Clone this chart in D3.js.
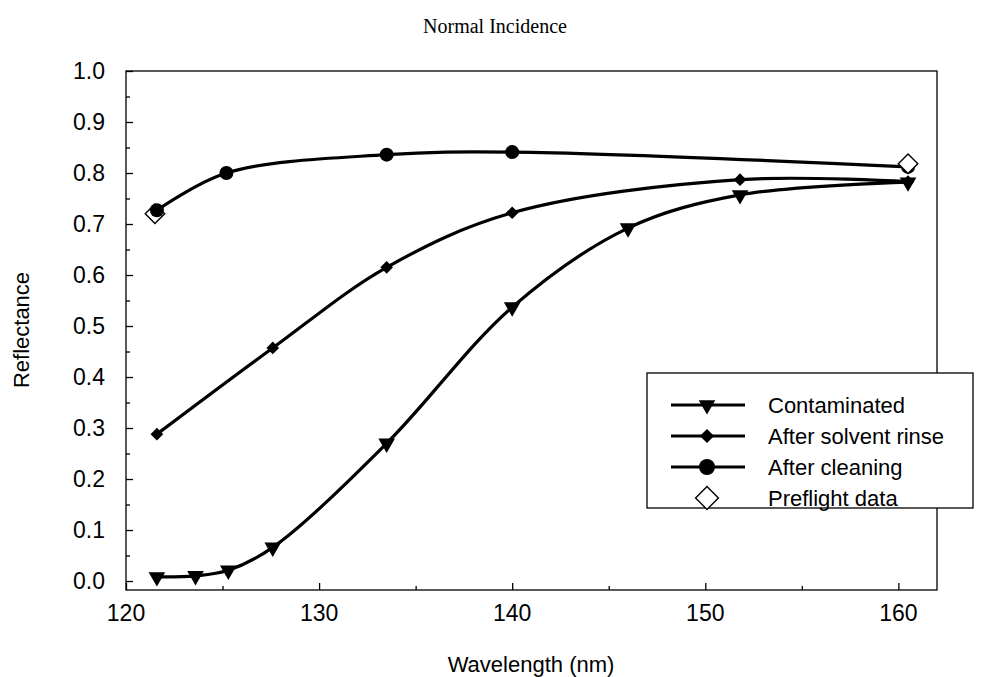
<!DOCTYPE html>
<html>
<head>
<meta charset="utf-8">
<script src="https://cdn.jsdelivr.net/npm/d3@7"></script>
<style>
  body { margin: 0; background: #fff; }
  text { fill: #000; }
</style>
</head>
<body>
<div id="chart"></div>
<script>
// data
var wlContaminated = [121.6, 123.6, 125.3, 127.6, 133.5, 140.0, 146.0, 151.8, 160.5];
var contaminated   = [0.008, 0.010, 0.021, 0.066, 0.270, 0.537, 0.692, 0.757, 0.782];

var wlRinse = [121.6, 127.6, 133.5, 140.0, 151.8, 160.5];
var rinse   = [0.288, 0.457, 0.615, 0.722, 0.787, 0.783];

var wlCleaning = [121.6, 125.2, 133.5, 140.0, 160.5];
var cleaning   = [0.727, 0.800, 0.836, 0.841, 0.812];

var wlPreflight = [121.5, 160.5];
var preflight   = [0.720, 0.818];

var xTicks = [120, 130, 140, 150, 160];
var yTicks = [0, 0.1, 0.2, 0.3, 0.4, 0.5, 0.6, 0.7, 0.8, 0.9, 1.0];
var legendNames = ["Contaminated", "After solvent rinse", "After cleaning", "Preflight data"];

var width = 989, height = 677;
var svg = d3.select("#chart").append("svg")
  .attr("width", width)
  .attr("height", height);

var x = d3.scaleLinear().domain([120, 162]).range([126, 937]);
var y = d3.scaleLinear().domain([-0.0176, 1.0]).range([590, 71]);

function zip(xs, ys) {
  return xs.map(function (d, i) { return { x: d, y: ys[i] }; });
}

// frame
svg.append("rect")
  .attr("x", x(120)).attr("y", y(1.0))
  .attr("width", x(162) - x(120)).attr("height", y(-0.0176) - y(1.0))
  .attr("fill", "none").attr("stroke", "#000").attr("stroke-width", 1.3);

// x axis, ticks pointing inward
var xAxis = svg.append("g").attr("transform", "translate(0," + y(-0.0176) + ")");
xAxis.call(d3.axisBottom(x).tickValues(d3.range(120, 162, 5)).tickSize(0).tickFormat(""));
xAxis.select(".domain").remove();
xAxis.selectAll(".tick line").remove();
xAxis.selectAll(".tick").append("line")
  .attr("y2", function (d) { return d % 10 === 0 ? -7 : -4; })
  .attr("stroke", "#000").attr("stroke-width", 1.3);
svg.append("g").selectAll("text").data(xTicks).enter().append("text")
  .attr("x", function (d) { return x(d); })
  .attr("y", 621)
  .attr("text-anchor", "middle")
  .style("font-family", "Liberation Sans, Arial, sans-serif")
  .style("font-size", "23px")
  .text(function (d) { return d; });

// y axis
var yAxis = svg.append("g").attr("transform", "translate(" + x(120) + ",0)");
yAxis.call(d3.axisLeft(y).tickValues(d3.range(0, 1.001, 0.05)).tickSize(0).tickFormat(""));
yAxis.select(".domain").remove();
yAxis.selectAll(".tick line").remove();
yAxis.selectAll(".tick").append("line")
  .attr("x2", function (d, i) { return i % 2 === 0 ? 7 : 4; })
  .attr("stroke", "#000").attr("stroke-width", 1.3);
svg.append("g").selectAll("text").data(yTicks).enter().append("text")
  .attr("x", 105)
  .attr("y", function (d) { return y(d) + 8; })
  .attr("text-anchor", "end")
  .style("font-family", "Liberation Sans, Arial, sans-serif")
  .style("font-size", "23px")
  .text(function (d) { return d3.format(".1f")(d); });

// titles
svg.append("text")
  .attr("x", 495).attr("y", 33)
  .attr("text-anchor", "middle")
  .style("font-family", "Liberation Serif, Times New Roman, serif")
  .style("font-size", "20px")
  .text("Normal Incidence");

svg.append("text")
  .attr("x", 531).attr("y", 672)
  .attr("text-anchor", "middle")
  .style("font-family", "Liberation Sans, Arial, sans-serif")
  .style("font-size", "22px")
  .text("Wavelength (nm)");

svg.append("text")
  .attr("transform", "translate(29,330) rotate(-90)")
  .attr("text-anchor", "middle")
  .style("font-family", "Liberation Sans, Arial, sans-serif")
  .style("font-size", "22px")
  .text("Reflectance");

// lines
var line = d3.line()
  .x(function (d) { return x(d.x); })
  .y(function (d) { return y(d.y); })
  .curve(d3.curveCatmullRom.alpha(0.5));

var plot = svg.append("g");
[zip(wlContaminated, contaminated), zip(wlRinse, rinse), zip(wlCleaning, cleaning)].forEach(function (s) {
  plot.append("path")
    .attr("d", line(s))
    .attr("fill", "none")
    .attr("stroke", "#000")
    .attr("stroke-width", 3.2);
});

// markers (diamonds = squares turned 45 degrees)
var triDown = d3.symbol().type(d3.symbolTriangle).size(120);
var diamond = d3.symbol().type(d3.symbolSquare).size(80);
var openDiamond = d3.symbol().type(d3.symbolSquare).size(190);

// first preflight point sits under the first cleaning dot
plot.append("path")
  .datum({ x: wlPreflight[0], y: preflight[0] })
  .attr("d", openDiamond)
  .attr("transform", function (d) { return "translate(" + x(d.x) + "," + y(d.y) + ") rotate(45)"; })
  .attr("fill", "#fff").attr("stroke", "#000").attr("stroke-width", 1.4);

plot.selectAll(".tri").data(zip(wlContaminated, contaminated)).enter().append("path")
  .attr("class", "tri")
  .attr("d", triDown)
  .attr("transform", function (d) { return "translate(" + x(d.x) + "," + y(d.y) + ") rotate(180)"; })
  .attr("fill", "#000");

plot.selectAll(".dia").data(zip(wlRinse, rinse)).enter().append("path")
  .attr("class", "dia")
  .attr("d", diamond)
  .attr("transform", function (d) { return "translate(" + x(d.x) + "," + y(d.y) + ") rotate(45)"; })
  .attr("fill", "#000");

plot.selectAll(".dot").data(zip(wlCleaning, cleaning)).enter().append("circle")
  .attr("class", "dot")
  .attr("cx", function (d) { return x(d.x); })
  .attr("cy", function (d) { return y(d.y); })
  .attr("r", 7)
  .attr("fill", "#000");

// last preflight point drawn on top
plot.append("path")
  .datum({ x: wlPreflight[1], y: preflight[1] })
  .attr("d", openDiamond)
  .attr("transform", function (d) { return "translate(" + x(d.x) + "," + y(d.y) + ") rotate(45)"; })
  .attr("fill", "#fff").attr("stroke", "#000").attr("stroke-width", 1.4);

// legend
var legend = svg.append("g").attr("transform", "translate(647,373)");
legend.append("rect")
  .attr("width", 326).attr("height", 135)
  .attr("fill", "#fff").attr("stroke", "#000").attr("stroke-width", 1.3);

var rows = legend.selectAll(".row").data(legendNames).enter().append("g")
  .attr("transform", function (d, i) { return "translate(0," + (32 + i * 31) + ")"; });

rows.filter(function (d, i) { return i < 3; }).append("line")
  .attr("x1", 24).attr("x2", 98)
  .attr("stroke", "#000").attr("stroke-width", 3.2);

rows.append("text")
  .attr("x", 121).attr("y", 8)
  .style("font-family", "Liberation Sans, Arial, sans-serif")
  .style("font-size", "22px")
  .text(function (d) { return d; });

rows.each(function (d, i) {
  var g = d3.select(this);
  if (i === 0) g.append("path").attr("d", triDown).attr("transform", "translate(60,0) rotate(180)").attr("fill", "#000");
  if (i === 1) g.append("path").attr("d", d3.symbol().type(d3.symbolSquare).size(100))
    .attr("transform", "translate(60,0) rotate(45)").attr("fill", "#000");
  if (i === 2) g.append("circle").attr("cx", 60).attr("r", 8).attr("fill", "#000");
  if (i === 3) g.append("path").attr("d", d3.symbol().type(d3.symbolSquare).size(260))
    .attr("transform", "translate(60,0) rotate(45)")
    .attr("fill", "#fff").attr("stroke", "#000").attr("stroke-width", 1.4);
});
</script>
</body>
</html>
